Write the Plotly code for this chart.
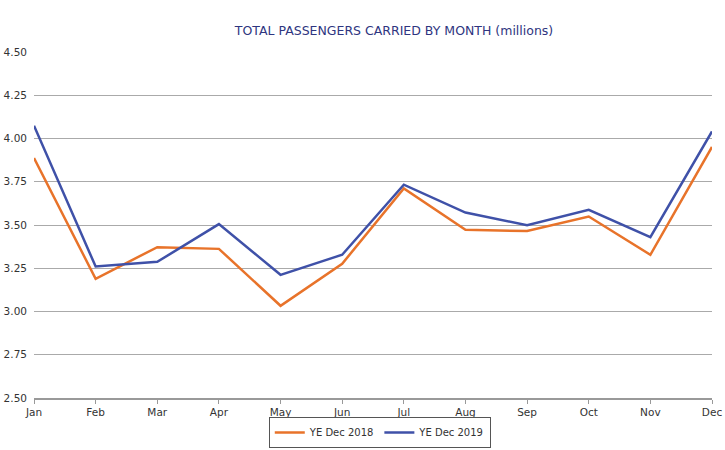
import plotly.graph_objects as go

months = ["Jan", "Feb", "Mar", "Apr", "May", "Jun", "Jul", "Aug", "Sep", "Oct", "Nov", "Dec"]
ye_2018 = [3.887, 3.189, 3.372, 3.362, 3.033, 3.276, 3.711, 3.472, 3.465, 3.549, 3.328, 3.951]
ye_2019 = [4.074, 3.260, 3.287, 3.505, 3.212, 3.328, 3.733, 3.572, 3.499, 3.588, 3.430, 4.041]
y_ticks = [2.50, 2.75, 3.00, 3.25, 3.50, 3.75, 4.00, 4.25, 4.50]

fig = go.Figure()
fig.add_trace(go.Scatter(x=months, y=ye_2018, mode="lines", name="YE Dec 2018",
                         line=dict(color="#E8732A", width=2.5)))
fig.add_trace(go.Scatter(x=months, y=ye_2019, mode="lines", name="YE Dec 2019",
                         line=dict(color="#3F51A8", width=2.5)))

fig.update_layout(
    width=725, height=450,
    margin=dict(l=34, r=13, t=52, b=52, autoexpand=False),
    paper_bgcolor="white", plot_bgcolor="white",
    font=dict(family="DejaVu Sans", size=11, color="#333333"),
    title=dict(text="TOTAL PASSENGERS CARRIED BY MONTH (millions)",
               x=0.531, xref="paper", xanchor="center", y=1 - 31 / 450, yref="container", yanchor="middle",
               font=dict(family="DejaVu Sans", size=12.5, color="#2E3580")),
    xaxis=dict(type="category", range=[0, 11], showgrid=False, automargin=False,
               showline=True, linecolor="#999999", linewidth=1.5,
               ticks="outside", ticklen=4, tickcolor="#999999",
               tickfont=dict(size=10.5, color="#333333")),
    yaxis=dict(range=[2.5, 4.5], tickvals=y_ticks, ticktext=[f"{v:.2f}" for v in y_ticks],
               showgrid=True, gridcolor="#AAAAAA", gridwidth=1, zeroline=False, automargin=False,
               showline=False, ticks="", ticklabelstandoff=6,
               tickfont=dict(size=10.5, color="#333333")),
    legend=dict(orientation="h", x=0.51, xanchor="center", y=-0.055, yanchor="top",
                bordercolor="#555555", borderwidth=1, bgcolor="white",
                itemwidth=30, tracegroupgap=0, font=dict(size=10, color="#333333")),
)

fig.write_html("out.html", config={"displayModeBar": False},
               post_script="document.body.style.margin='0';document.body.style.overflow='hidden';")
